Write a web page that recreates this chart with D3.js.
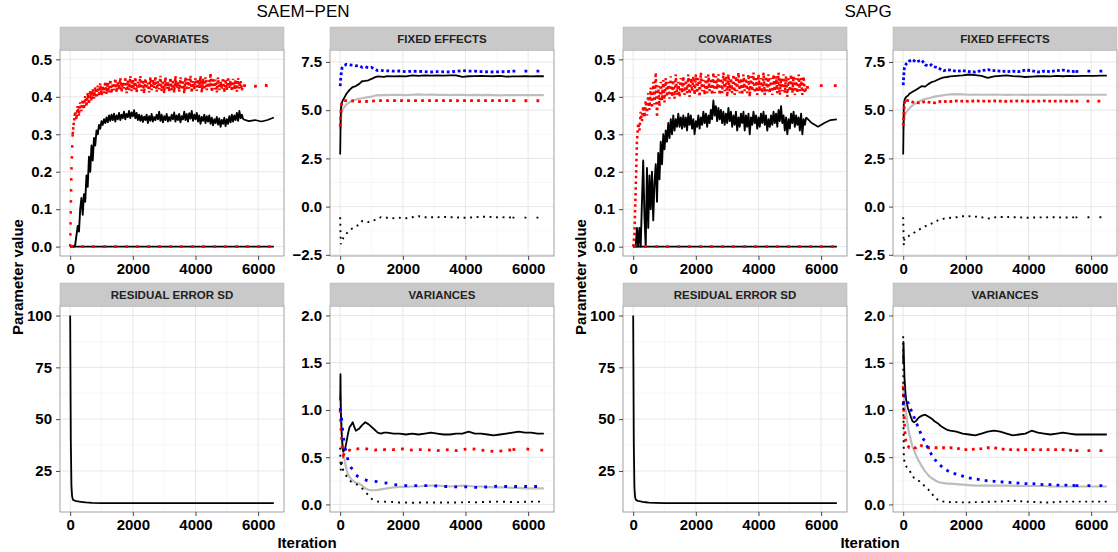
<!DOCTYPE html>
<html><head><meta charset="utf-8">
<script src="https://cdn.jsdelivr.net/npm/d3@7"></script>
<style>body{margin:0;background:#fff}svg{display:block}</style>
</head><body><svg id="c" width="1118" height="552"></svg>
<script>
// ---------------- DATA ----------------
const figureTitles = ['SAEM\u2212PEN', 'SAPG'];
const stripLabels = ['COVARIATES', 'FIXED EFFECTS', 'RESIDUAL ERROR SD', 'VARIANCES'];
const xTicks = [0, 2000, 4000, 6000];
const yTicksCov = [0, 0.1, 0.2, 0.3, 0.4, 0.5];
const yTicksFE = [-2.5, 0, 2.5, 5, 7.5];
const yTicksRes = [25, 50, 75, 100];
const yTicksVar = [0, 0.5, 1, 1.5, 2];

// covariates: noisy phase sampled every 40 iterations (0..5520), then a smooth tail
const covNoisyIter = d3.range(0, 5521, 40);
const covTailIter = [5520, 5700, 5900, 6100, 6300, 6500];
const covZeroIter = [0, 6500];
const covZeroVal = [0, 0];

const penCovRed = [
0.000,0.200,0.300,0.335,0.360,0.340,0.375,0.350,0.385,0.362,
0.392,0.368,0.402,0.375,0.410,0.382,0.415,0.390,0.420,0.395,
0.425,0.398,0.430,0.402,0.436,0.405,0.428,0.410,0.440,0.408,
0.438,0.412,0.445,0.410,0.436,0.418,0.448,0.412,0.440,0.420,
0.450,0.414,0.438,0.422,0.452,0.410,0.444,0.418,0.455,0.415,
0.446,0.420,0.452,0.412,0.440,0.424,0.455,0.416,0.445,0.410,
0.448,0.422,0.438,0.412,0.452,0.418,0.446,0.424,0.454,0.414,
0.442,0.420,0.456,0.416,0.444,0.410,0.452,0.422,0.440,0.415,
0.450,0.418,0.446,0.412,0.455,0.424,0.440,0.414,0.452,0.420,
0.444,0.410,0.452,0.418,0.448,0.422,0.456,0.412,0.442,0.420,
0.450,0.416,0.446,0.424,0.455,0.412,0.448,0.420,0.452,0.418,
0.444,0.425,0.462,0.414,0.450,0.420,0.446,0.412,0.452,0.418,
0.440,0.422,0.450,0.412,0.446,0.418,0.452,0.424,0.442,0.416,
0.448,0.420,0.445,0.414,0.450,0.422,0.442,0.418,0.430];
const penCovRedTail = [0.430, 0.430, 0.428, 0.432, 0.430, 0.432];
const penCovBlack = [
0,0,0,0,0.005,0.03,0.055,0.04,0.10,0.13,
0.085,0.14,0.12,0.19,0.16,0.24,0.20,0.27,0.23,0.29,
0.27,0.31,0.30,0.325,0.315,0.335,0.325,0.34,0.33,0.345,
0.332,0.35,0.336,0.352,0.338,0.355,0.334,0.35,0.34,0.357,
0.338,0.352,0.343,0.36,0.34,0.354,0.346,0.362,0.343,0.358,
0.348,0.364,0.343,0.357,0.338,0.352,0.336,0.35,0.333,0.347,
0.338,0.352,0.33,0.348,0.336,0.354,0.334,0.346,0.338,0.352,
0.34,0.36,0.336,0.352,0.332,0.348,0.338,0.354,0.334,0.346,
0.336,0.352,0.34,0.358,0.334,0.35,0.338,0.354,0.332,0.348,
0.34,0.36,0.338,0.354,0.334,0.356,0.342,0.362,0.336,0.352,
0.34,0.357,0.334,0.35,0.328,0.346,0.336,0.352,0.33,0.348,
0.334,0.35,0.328,0.344,0.324,0.34,0.33,0.346,0.326,0.342,
0.32,0.338,0.328,0.344,0.322,0.34,0.328,0.348,0.332,0.352,
0.334,0.35,0.338,0.357,0.336,0.362,0.343,0.352,0.34];
const penCovBlackTail = [0.34, 0.335, 0.338, 0.334, 0.338, 0.345];

const sapgCovRed = [
0.0,0.03,0.15,0.28,0.33,0.31,0.36,0.335,0.375,0.345,
0.39,0.35,0.41,0.365,0.425,0.37,0.44,0.38,0.465,0.345,
0.43,0.375,0.44,0.39,0.445,0.385,0.45,0.40,0.44,0.395,
0.455,0.40,0.445,0.395,0.46,0.405,0.44,0.40,0.45,0.41,
0.455,0.405,0.445,0.41,0.46,0.40,0.45,0.415,0.455,0.405,
0.46,0.41,0.45,0.40,0.465,0.415,0.445,0.405,0.455,0.41,
0.46,0.415,0.45,0.405,0.465,0.41,0.455,0.42,0.46,0.405,
0.45,0.41,0.465,0.415,0.455,0.40,0.46,0.415,0.45,0.41,
0.46,0.405,0.455,0.415,0.465,0.41,0.45,0.405,0.46,0.415,
0.45,0.41,0.46,0.40,0.455,0.415,0.465,0.41,0.45,0.405,
0.46,0.415,0.45,0.41,0.465,0.405,0.455,0.415,0.46,0.41,
0.45,0.405,0.46,0.415,0.455,0.41,0.465,0.405,0.45,0.415,
0.46,0.41,0.455,0.40,0.45,0.415,0.46,0.41,0.455,0.405,
0.45,0.41,0.46,0.415,0.45,0.405,0.455,0.41,0.425];
const sapgCovRedTail = [0.425, 0.425, 0.43, 0.43, 0.43, 0.43];
const sapgCovBlack = [
0,0,0,0.05,0.0,0.05,0.0,0.12,0.23,0.08,
0.0,0.21,0.05,0.19,0.10,0.20,0.07,0.17,0.22,0.12,
0.25,0.18,0.28,0.22,0.30,0.26,0.31,0.28,0.33,0.29,
0.34,0.30,0.35,0.31,0.34,0.32,0.355,0.32,0.345,0.315,
0.35,0.32,0.345,0.31,0.355,0.325,0.35,0.315,0.34,0.30,
0.335,0.32,0.35,0.315,0.345,0.325,0.36,0.33,0.355,0.32,
0.35,0.33,0.365,0.34,0.39,0.35,0.375,0.335,0.37,0.34,
0.365,0.33,0.36,0.325,0.355,0.33,0.37,0.335,0.36,0.32,
0.35,0.325,0.36,0.31,0.345,0.32,0.355,0.33,0.36,0.31,
0.35,0.32,0.355,0.30,0.345,0.325,0.36,0.33,0.35,0.315,
0.345,0.32,0.355,0.33,0.36,0.325,0.35,0.31,0.34,0.32,
0.35,0.325,0.36,0.33,0.355,0.32,0.365,0.335,0.375,0.33,
0.35,0.31,0.345,0.30,0.34,0.315,0.355,0.33,0.36,0.32,
0.35,0.325,0.345,0.31,0.355,0.30,0.34,0.325,0.345];
const sapgCovBlackTail = [0.345, 0.33, 0.32, 0.33, 0.338, 0.34];

// fixed effects
const feIter = [0,20,40,60,80,100,150,200,300,400,500,600,700,800,900,1000,1100,1200,1300,1400,1500,
1700,1900,2100,2300,2500,2700,2900,3100,3300,3500,3700,3900,4100,4300,4500,4700,4900,5100,5300,5500,5700,5900,6100,6300,6500];
const penFEBlue = [6.25,6.7,7.0,7.2,7.25,7.3,7.33,7.38,7.35,7.33,7.3,7.32,7.22,7.25,7.2,7.22,7.12,7.05,7.07,7.03,7.04,
7.02,7.03,7.0,7.02,7.01,7.0,6.98,7.0,6.99,6.98,7.01,7.05,7.03,7.02,7.0,6.99,6.98,6.99,7.0,7.02,7.02,7.02,7.02,7.02,7.02];
const penFEBlack = [2.7,5.0,5.3,5.4,5.5,5.55,5.7,5.85,6.05,6.2,6.25,6.35,6.5,6.52,6.55,6.62,6.7,6.75,6.74,6.73,6.76,
6.75,6.77,6.75,6.8,6.78,6.8,6.79,6.8,6.79,6.8,6.8,6.73,6.76,6.77,6.78,6.77,6.76,6.78,6.74,6.75,6.75,6.76,6.75,6.76,6.76];
const penFEGrey = [4.0,4.5,4.8,4.95,5.05,5.1,5.2,5.3,5.42,5.5,5.55,5.6,5.62,5.65,5.68,5.7,5.75,5.78,5.77,5.79,5.78,
5.8,5.79,5.78,5.8,5.82,5.8,5.81,5.79,5.8,5.78,5.8,5.79,5.78,5.79,5.78,5.79,5.78,5.77,5.78,5.78,5.78,5.78,5.78,5.78,5.78];
const penFERed = [4.15,4.75,5.3,5.45,5.5,5.52,5.5,5.5,5.49,5.48,5.47,5.45,5.44,5.45,5.46,5.47,5.48,5.49,5.5,5.5,5.5,
5.5,5.5,5.49,5.5,5.5,5.5,5.49,5.5,5.5,5.5,5.49,5.5,5.5,5.5,5.49,5.5,5.5,5.5,5.5,5.5,5.49,5.49,5.49,5.49,5.49];
const penFEBlackDot = [-0.55,-1.95,-1.85,-1.78,-1.7,-1.62,-1.5,-1.4,-1.22,-1.12,-1.02,-0.95,-0.75,-0.78,-0.8,-0.72,-0.7,-0.62,-0.55,-0.58,-0.58,
-0.6,-0.58,-0.6,-0.55,-0.5,-0.55,-0.55,-0.55,-0.53,-0.55,-0.55,-0.58,-0.57,-0.55,-0.53,-0.52,-0.55,-0.56,-0.55,-0.57,-0.57,-0.57,-0.57,-0.57,-0.57];
const sapgFEBlue = [6.3,6.85,7.2,7.3,7.35,7.4,7.45,7.55,7.62,7.5,7.55,7.58,7.35,7.3,7.35,7.25,7.2,7.12,7.05,7.1,7.08,
7.02,7.05,7.0,6.98,7.05,7.1,7.05,7.03,7.0,7.02,7.0,7.08,7.05,6.98,7.02,7.0,7.05,7.08,7.02,7.0,7.02,7.02,7.02,7.02,7.02];
const sapgFEBlack = [2.7,5.3,5.5,5.6,5.65,5.7,5.75,5.85,5.95,6.05,6.15,6.25,6.22,6.35,6.45,6.5,6.58,6.65,6.7,6.72,6.75,
6.78,6.8,6.85,6.82,6.78,6.68,6.75,6.78,6.8,6.77,6.75,6.72,6.74,6.76,6.77,6.75,6.78,6.76,6.78,6.77,6.78,6.78,6.78,6.79,6.79];
const sapgFEGrey = [4.0,4.4,4.6,4.75,4.85,4.9,5.0,5.1,5.25,5.35,5.45,5.52,5.58,5.62,5.66,5.7,5.73,5.75,5.78,5.8,5.82,
5.83,5.82,5.8,5.81,5.8,5.8,5.81,5.8,5.79,5.8,5.8,5.79,5.8,5.8,5.79,5.8,5.8,5.8,5.79,5.8,5.8,5.8,5.8,5.8,5.8];
const sapgFERed = [4.2,4.75,5.35,5.55,5.55,5.52,5.5,5.48,5.42,5.4,5.38,5.4,5.45,5.42,5.4,5.38,5.42,5.45,5.44,5.46,5.45,
5.48,5.47,5.46,5.48,5.47,5.47,5.48,5.47,5.46,5.47,5.48,5.47,5.46,5.47,5.48,5.47,5.47,5.47,5.47,5.47,5.47,5.47,5.47,5.47,5.47];
const sapgFEBlackDot = [-0.55,-2.0,-1.65,-1.62,-1.6,-1.58,-1.56,-1.5,-1.4,-1.3,-1.2,-1.1,-1.02,-0.95,-0.88,-0.8,-0.72,-0.68,-0.62,-0.6,-0.58,
-0.55,-0.5,-0.5,-0.52,-0.55,-0.62,-0.56,-0.54,-0.53,-0.55,-0.55,-0.58,-0.57,-0.56,-0.56,-0.55,-0.55,-0.57,-0.56,-0.56,-0.55,-0.55,-0.55,-0.55,-0.55];

// residual error sd
const resIter = [0,20,40,60,80,100,150,200,300,400,500,700,1000,1500,2000,3000,4000,5000,6000,6500];
const penRes = [100,40,18,13,11.5,11,10.7,10.5,10.2,10,9.8,9.6,9.5,9.5,9.5,9.5,9.5,9.5,9.5,9.5];
const sapgRes = [100,38,17,12.5,11.3,10.9,10.6,10.4,10.1,9.9,9.7,9.6,9.5,9.5,9.5,9.5,9.5,9.5,9.5,9.5];

// variances
const varIter = [0,10,20,40,60,80,100,150,200,250,300,350,400,450,500,600,700,800,900,1000,1100,1200,1300,1400,1500,
1700,1900,2100,2300,2500,2700,2900,3100,3300,3500,3700,3900,4100,4300,4500,4700,4900,5100,5300,5500,5700,5900,6100,6300,6500];
const penVarBlack = [1.1,1.38,1.0,0.8,0.68,0.6,0.56,0.58,0.66,0.75,0.82,0.84,0.87,0.82,0.78,0.8,0.84,0.87,0.85,0.82,0.79,0.76,0.75,0.76,0.76,
0.75,0.75,0.74,0.75,0.74,0.75,0.76,0.75,0.74,0.74,0.75,0.75,0.77,0.75,0.75,0.74,0.73,0.74,0.75,0.76,0.77,0.76,0.76,0.75,0.75];
const penVarGrey = [1.15,1.1,1.0,0.85,0.72,0.62,0.55,0.45,0.37,0.32,0.29,0.27,0.25,0.24,0.23,0.22,0.2,0.17,0.155,0.15,0.15,0.155,0.16,0.165,0.17,
0.18,0.185,0.185,0.19,0.19,0.195,0.2,0.2,0.195,0.19,0.195,0.2,0.195,0.19,0.19,0.185,0.18,0.18,0.18,0.175,0.175,0.17,0.17,0.17,0.17];
const penVarRed = [1.0,0.92,0.85,0.72,0.62,0.55,0.52,0.55,0.58,0.57,0.575,0.565,0.57,0.58,0.585,0.59,0.595,0.59,0.585,0.58,0.575,0.58,0.585,0.58,0.585,
0.58,0.59,0.585,0.575,0.58,0.58,0.575,0.57,0.575,0.58,0.57,0.58,0.59,0.585,0.575,0.57,0.56,0.565,0.57,0.58,0.585,0.59,0.58,0.575,0.575];
const penVarBlue = [1.02,1.0,0.97,0.92,0.85,0.78,0.72,0.62,0.53,0.47,0.42,0.39,0.37,0.34,0.31,0.29,0.27,0.26,0.25,0.25,0.245,0.24,0.235,0.23,0.225,
0.21,0.205,0.2,0.2,0.2,0.2,0.2,0.195,0.19,0.19,0.185,0.185,0.185,0.18,0.18,0.185,0.19,0.195,0.19,0.19,0.19,0.19,0.19,0.19,0.19];
const penVarBlackDot = [0.6,0.45,0.36,0.47,0.42,0.38,0.36,0.33,0.3,0.28,0.26,0.24,0.23,0.22,0.215,0.2,0.17,0.13,0.1,0.06,0.035,0.03,0.03,0.028,0.03,
0.025,0.02,0.02,0.018,0.02,0.02,0.02,0.022,0.02,0.02,0.02,0.022,0.025,0.022,0.025,0.028,0.03,0.03,0.028,0.025,0.025,0.028,0.03,0.03,0.03];
const sapgVarBlack = [1.5,1.72,1.6,1.35,1.25,1.15,1.1,1.02,0.97,0.92,0.88,0.87,0.88,0.9,0.92,0.94,0.95,0.93,0.91,0.88,0.86,0.83,0.81,0.79,0.78,
0.77,0.75,0.74,0.73,0.75,0.77,0.78,0.77,0.75,0.73,0.74,0.75,0.78,0.76,0.75,0.74,0.75,0.76,0.75,0.74,0.74,0.74,0.74,0.74,0.74];
const sapgVarGrey = [1.3,1.22,1.15,1.08,1.03,0.99,0.95,0.82,0.74,0.67,0.61,0.57,0.53,0.49,0.46,0.4,0.35,0.31,0.28,0.26,0.24,0.23,0.225,0.22,0.22,
0.215,0.21,0.205,0.2,0.2,0.2,0.2,0.2,0.2,0.2,0.195,0.195,0.195,0.195,0.195,0.19,0.19,0.19,0.19,0.19,0.19,0.19,0.19,0.19,0.19];
const sapgVarRed = [1.25,1.12,1.0,0.85,0.75,0.68,0.64,0.62,0.6,0.6,0.61,0.6,0.6,0.62,0.63,0.62,0.61,0.6,0.6,0.6,0.6,0.6,0.6,0.595,0.6,
0.595,0.58,0.58,0.585,0.59,0.6,0.6,0.59,0.58,0.58,0.578,0.58,0.58,0.578,0.58,0.58,0.58,0.58,0.575,0.57,0.57,0.57,0.57,0.57,0.57];
const sapgVarBlue = [1.05,1.1,1.12,1.14,1.15,1.14,1.12,1.08,1.04,1.0,0.96,0.92,0.88,0.84,0.8,0.72,0.66,0.59,0.53,0.48,0.44,0.41,0.38,0.36,0.34,
0.32,0.3,0.28,0.27,0.26,0.25,0.245,0.24,0.235,0.23,0.225,0.22,0.22,0.215,0.21,0.21,0.205,0.205,0.205,0.2,0.2,0.2,0.2,0.2,0.2];
const sapgVarBlackDot = [1.78,0.9,0.5,0.45,0.43,0.42,0.4,0.38,0.36,0.33,0.3,0.28,0.27,0.26,0.25,0.22,0.19,0.16,0.12,0.08,0.05,0.035,0.03,0.028,0.025,
0.025,0.022,0.022,0.025,0.025,0.028,0.03,0.03,0.035,0.04,0.035,0.03,0.028,0.025,0.02,0.022,0.025,0.03,0.03,0.03,0.03,0.03,0.03,0.03,0.03];

// ---------------- LAYOUT / STYLE ----------------
const FONT = '"Liberation Sans", Arial, Helvetica, sans-serif';
const FIG_X = [0, 563];
const COL_X = [60, 330];
const ROW_Y = [50, 306];
const PW = 224, PH = 206, SH = 23;
const xDomain = [-325, 6825];
const RED = '#ff0000', BLUE = '#0000ff', GREY = '#bdbdbd', BLACK = '#000000';
const TITLE_DX = [-4, -2];

const svg = d3.select('#c');
let clipId = 0;

function solid(x, y, color, w) { return {x, y, color, w, segs: null}; }
function dotted(x, y, color, w, segs) { return {x, y, color, w, segs}; }

function drawPanel(ox, oy, strip, yDomain, yTicks, yFmt, series) {
  const g = svg.append('g').attr('transform', `translate(${ox},${oy})`);
  const x = d3.scaleLinear().domain(xDomain).range([0, PW]);
  const y = d3.scaleLinear().domain(yDomain).range([PH, 0]);
  g.append('rect').attr('width', PW).attr('height', PH).attr('fill', '#fff');
  const yMinor = yTicks.slice(1).map((t, i) => (t + yTicks[i]) / 2);
  const xMinor = [1000, 3000, 5000];
  g.selectAll('.mx').data(xMinor).enter().append('line')
    .attr('x1', d => x(d)).attr('x2', d => x(d)).attr('y1', 0).attr('y2', PH)
    .attr('stroke', '#f2f2f2').attr('stroke-width', 0.6);
  g.selectAll('.my').data(yMinor).enter().append('line')
    .attr('y1', d => y(d)).attr('y2', d => y(d)).attr('x1', 0).attr('x2', PW)
    .attr('stroke', '#f2f2f2').attr('stroke-width', 0.6);
  g.selectAll('.gx').data(xTicks).enter().append('line')
    .attr('x1', d => x(d)).attr('x2', d => x(d)).attr('y1', 0).attr('y2', PH)
    .attr('stroke', '#e4e4e4').attr('stroke-width', 0.9);
  g.selectAll('.gy').data(yTicks).enter().append('line')
    .attr('y1', d => y(d)).attr('y2', d => y(d)).attr('x1', 0).attr('x2', PW)
    .attr('stroke', '#e4e4e4').attr('stroke-width', 0.9);

  const cid = 'clip' + (clipId++);
  g.append('clipPath').attr('id', cid).append('rect').attr('width', PW).attr('height', PH);
  const plot = g.append('g').attr('clip-path', `url(#${cid})`);
  const line = d3.line().x(d => x(d[0])).y(d => y(d[1]));
  series.forEach(s => {
    const pts = s.x.map((v, i) => [v, s.y[i]]);
    if (!s.segs) {
      plot.append('path').attr('d', line(pts)).attr('fill', 'none')
        .attr('stroke', s.color).attr('stroke-width', s.w).attr('stroke-linejoin', 'round');
    } else {
      s.segs.forEach(([a, b, period]) => {
        const sub = pts.filter(p => p[0] >= a && p[0] <= b);
        plot.append('path').attr('d', line(sub)).attr('fill', 'none')
          .attr('stroke', s.color).attr('stroke-width', s.w)
          .attr('stroke-dasharray', `${s.w},${period - s.w}`);
      });
    }
  });

  g.append('rect').attr('width', PW).attr('height', PH).attr('fill', 'none')
    .attr('stroke', '#8a8a8a').attr('stroke-width', 0.8);
  // strip
  g.append('rect').attr('x', 0).attr('y', -SH).attr('width', PW).attr('height', SH)
    .attr('fill', '#c9c9c9').attr('stroke', '#b5b5b5').attr('stroke-width', 0.5);
  g.append('text').attr('x', PW / 2).attr('y', -SH / 2 + 4).attr('text-anchor', 'middle')
    .attr('font-family', FONT).attr('font-weight', 'bold').attr('font-size', 11.5)
    .attr('fill', '#222').text(strip);

  const styleAxis = sel => {
    sel.select('.domain').remove();
    sel.selectAll('line').attr('stroke', '#333').attr('stroke-width', 0.9);
    sel.selectAll('text').attr('font-family', FONT).attr('font-size', 15)
      .attr('font-weight', 'bold').attr('fill', '#000');
  };
  g.append('g').call(d3.axisLeft(y).tickValues(yTicks).tickFormat(yFmt).tickSize(4).tickPadding(4)).call(styleAxis);
  g.append('g').attr('transform', `translate(0,${PH})`)
    .call(d3.axisBottom(x).tickValues(xTicks).tickFormat(d3.format('d')).tickSize(4).tickPadding(3)).call(styleAxis);
}

const f1 = d3.format('.1f');
const fInt = d3.format('d');

const figures = [
  {
    cov: [
      dotted(covNoisyIter, penCovRed, RED, 2.5, [[0, 80, 11], [80, 5520, 4.6]]),
      dotted(covTailIter, penCovRedTail, RED, 2.8, [[5520, 6500, 11]]),
      solid(covNoisyIter, penCovBlack, BLACK, 1.9),
      solid(covTailIter, penCovBlackTail, BLACK, 1.7),
      solid(covZeroIter, covZeroVal, BLACK, 1.8),
      dotted(covZeroIter, covZeroVal, RED, 2.8, [[0, 6500, 11]])
    ],
    fe: [penFEGrey, penFEBlack, penFERed, penFEBlue, penFEBlackDot],
    feSegs: {blue: [[0,5500,5.5],[5500,6500,12]], red: [[0,5500,7],[5500,6500,12]], blk: [[0,5500,6.5],[5500,6500,12]]},
    res: penRes,
    vr: [penVarGrey, penVarBlack, penVarRed, penVarBlue, penVarBlackDot],
    varSegs: {blue: [[0,6500,10]], red: [[0,5500,9],[5500,6500,14]], blk: [[0,6500,7]]}
  },
  {
    cov: [
      dotted(covNoisyIter, sapgCovRed, RED, 2.5, [[0, 5520, 5.7]]),
      dotted(covTailIter, sapgCovRedTail, RED, 2.8, [[5520, 6500, 14]]),
      solid(covNoisyIter, sapgCovBlack, BLACK, 1.9),
      solid(covTailIter, sapgCovBlackTail, BLACK, 1.7),
      solid(covZeroIter, covZeroVal, BLACK, 1.8),
      dotted(covZeroIter, covZeroVal, RED, 2.8, [[0, 6500, 11]])
    ],
    fe: [sapgFEGrey, sapgFEBlack, sapgFERed, sapgFEBlue, sapgFEBlackDot],
    feSegs: {blue: [[0,5500,5],[5500,6500,12]], red: [[0,5500,5.5],[5500,6500,11]], blk: [[0,5500,6.5],[5500,6500,12]]},
    res: sapgRes,
    vr: [sapgVarGrey, sapgVarBlack, sapgVarRed, sapgVarBlue, sapgVarBlackDot],
    varSegs: {blue: [[0,5500,8],[5500,6500,12]], red: [[0,5500,7.5],[5500,6500,12]], blk: [[0,6500,6.5]]}
  }
];

figures.forEach((fig, fi) => {
  const fx = FIG_X[fi];
  drawPanel(fx + COL_X[0], ROW_Y[0], stripLabels[0], [-0.025, 0.525], yTicksCov, f1, fig.cov);
  const [fg, fb, fr, fbl, fbd] = fig.fe;
  drawPanel(fx + COL_X[1], ROW_Y[0], stripLabels[1], [-2.56, 8.12], yTicksFE, f1, [
    solid(feIter, fg, GREY, 2.2),
    solid(feIter, fb, BLACK, 1.8),
    dotted(feIter, fr, RED, 2.8, fig.feSegs.red),
    dotted(feIter, fbl, BLUE, 2.8, fig.feSegs.blue),
    dotted(feIter, fbd, BLACK, 1.9, fig.feSegs.blk)
  ]);
  drawPanel(fx + COL_X[0], ROW_Y[1], stripLabels[2], [5.2, 104.6], yTicksRes, fInt, [
    solid(resIter, fig.res, BLACK, 1.8)
  ]);
  const [vg, vb, vr, vbl, vbd] = fig.vr;
  drawPanel(fx + COL_X[1], ROW_Y[1], stripLabels[3], [-0.08, 2.1], yTicksVar, f1, [
    solid(varIter, vg, GREY, 2.2),
    solid(varIter, vb, BLACK, 1.8),
    dotted(varIter, vr, RED, 2.8, fig.varSegs.red),
    dotted(varIter, vbl, BLUE, 2.8, fig.varSegs.blue),
    dotted(varIter, vbd, BLACK, 1.9, fig.varSegs.blk)
  ]);

  const cx = fx + (COL_X[0] + COL_X[1] + PW) / 2;
  svg.append('text').attr('x', cx + TITLE_DX[fi]).attr('y', 17).attr('text-anchor', 'middle')
    .attr('font-family', FONT).attr('font-size', 17).attr('fill', '#000').text(figureTitles[fi]);
  svg.append('text').attr('x', cx).attr('y', 548).attr('text-anchor', 'middle')
    .attr('font-family', FONT).attr('font-size', 15).attr('font-weight', 'bold').attr('fill', '#000').text('Iteration');
  svg.append('text').attr('transform', `translate(${fx + 23},277) rotate(-90)`).attr('text-anchor', 'middle')
    .attr('font-family', FONT).attr('font-size', 15).attr('font-weight', 'bold').attr('fill', '#000').text('Parameter value');
});
</script></body></html>
